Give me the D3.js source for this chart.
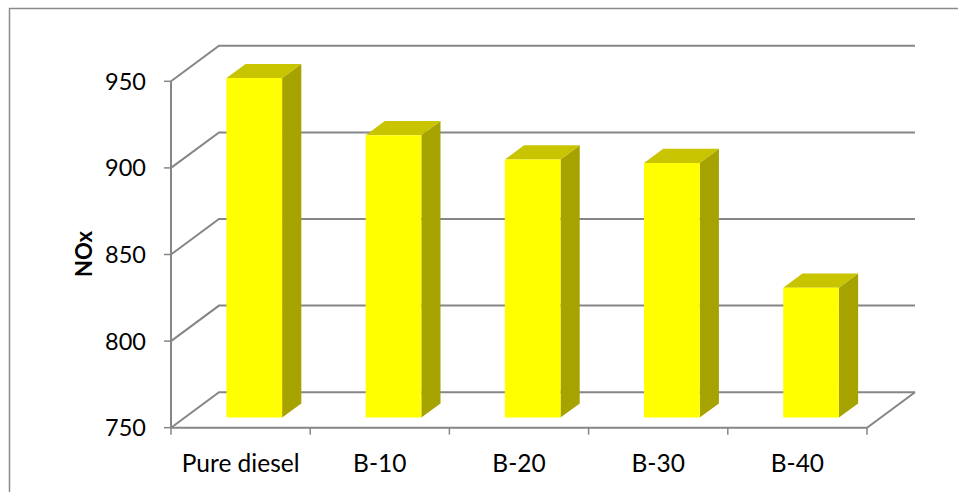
<!DOCTYPE html>
<html>
<head>
<meta charset="utf-8">
<script src="https://cdn.jsdelivr.net/npm/d3@7/dist/d3.min.js"></script>
<style>
  html, body { margin: 0; padding: 0; background: #fff; }
  svg { display: block; }
</style>
</head>
<body>
<script>
// NOx emission by fuel blend
const categories = ["Pure diesel", "B-10", "B-20", "B-30", "B-40"];
const noxValues = [946, 913, 899, 897, 825];
const yTicks = [750, 800, 850, 900, 950];
const yTitle = "NOx";

const W = 958, H = 492;
const svg = d3.select("body").append("svg").attr("width", W).attr("height", H);

// 3-D projection: depth offset of the back wall relative to the front plane
const DX = 48, DY = -35.5;
const F0 = 0.285, F1 = 0.685;   // depth slab occupied by the bars

const x = d3.scaleBand().domain(categories).range([171, 867]).paddingInner(0.6).paddingOuter(0.3);
const y = d3.scaleLinear().domain([750, 950]).range([427.7, 81.3]);
const proj = (px, py, f) => [px + f * DX, py + f * DY];

const grid = "#868686";
const font = "Lato, 'Open Sans', sans-serif";

// outer chart frame
svg.append("rect").attr("x", 9.5).attr("y", 8.5).attr("width", W + 20).attr("height", H + 20)
  .attr("fill", "none").attr("stroke", "#8a8a8a").attr("stroke-width", 1.5);

const [xL, xR] = x.range();

// gridlines: side wall diagonal + back wall horizontal
const gl = svg.append("g").attr("fill", "none").attr("stroke", grid).attr("stroke-width", 2);
yTicks.forEach(t => {
  const a = [xL, y(t)], b = proj(xL, y(t), 1), c = proj(xR, y(t), 1);
  gl.append("path").attr("d", d3.line()([a, b, c]));
});

// floor: front edge and right edge
const floorY = y(750);
gl.append("path").attr("d", d3.line()([[xL, floorY], [xR, floorY], proj(xR, floorY, 1)]));

// value axis line
svg.append("line").attr("x1", xL).attr("x2", xL).attr("y1", y(950)).attr("y2", floorY)
  .attr("stroke", grid).attr("stroke-width", 2);

// value ticks and labels
const yAxis = svg.append("g");
yTicks.forEach(t => {
  yAxis.append("line").attr("x1", xL - 7).attr("x2", xL).attr("y1", y(t)).attr("y2", y(t))
    .attr("stroke", grid).attr("stroke-width", 1.5);
  yAxis.append("text").attr("x", 146).attr("y", y(t) + 8.5)
    .attr("text-anchor", "end").attr("font-family", font)
    .attr("font-size", 23.5).attr("fill", "#000").text(t);
});

// category ticks on the floor front edge
const step = x.step();
d3.range(categories.length + 1).forEach(i => {
  const tx = xL + i * step;
  svg.append("line").attr("x1", tx).attr("x2", tx).attr("y1", floorY).attr("y2", floorY + 7)
    .attr("stroke", grid).attr("stroke-width", 1.5);
});

// category labels
svg.append("g").selectAll("text").data(categories).join("text")
  .attr("x", d => x(d) + x.bandwidth() / 2)
  .attr("y", 472)
  .attr("text-anchor", "middle")
  .attr("font-family", font)
  .attr("font-size", 24.5).attr("fill", "#000")
  .text(d => d);

// axis title
svg.append("text")
  .attr("transform", `translate(92,254) rotate(-90)`)
  .attr("text-anchor", "middle")
  .attr("font-family", font)
  .attr("font-weight", "bold").attr("font-size", 22).attr("fill", "#000")
  .text(yTitle);

// 3-D bars
const bars = svg.append("g");
categories.forEach((c, i) => {
  const v = noxValues[i];
  const x0 = x(c), x1 = x(c) + x.bandwidth();
  const yt = y(v), yb = y(750);
  const ftl = proj(x0, yt, F0), ftr = proj(x1, yt, F0), fbr = proj(x1, yb, F0), fbl = proj(x0, yb, F0);
  const btl = proj(x0, yt, F1), btr = proj(x1, yt, F1), bbr = proj(x1, yb, F1);
  const poly = pts => "M" + pts.map(p => p.join(",")).join("L") + "Z";
  bars.append("path").attr("d", poly([ftr, btr, bbr, fbr])).attr("fill", "#a6a300");
  bars.append("path").attr("d", poly([ftl, ftr, btr, btl])).attr("fill", "#c8c400");
  bars.append("path").attr("d", poly([ftl, ftr, fbr, fbl])).attr("fill", "#ffff00");
});
</script>
</body>
</html>
